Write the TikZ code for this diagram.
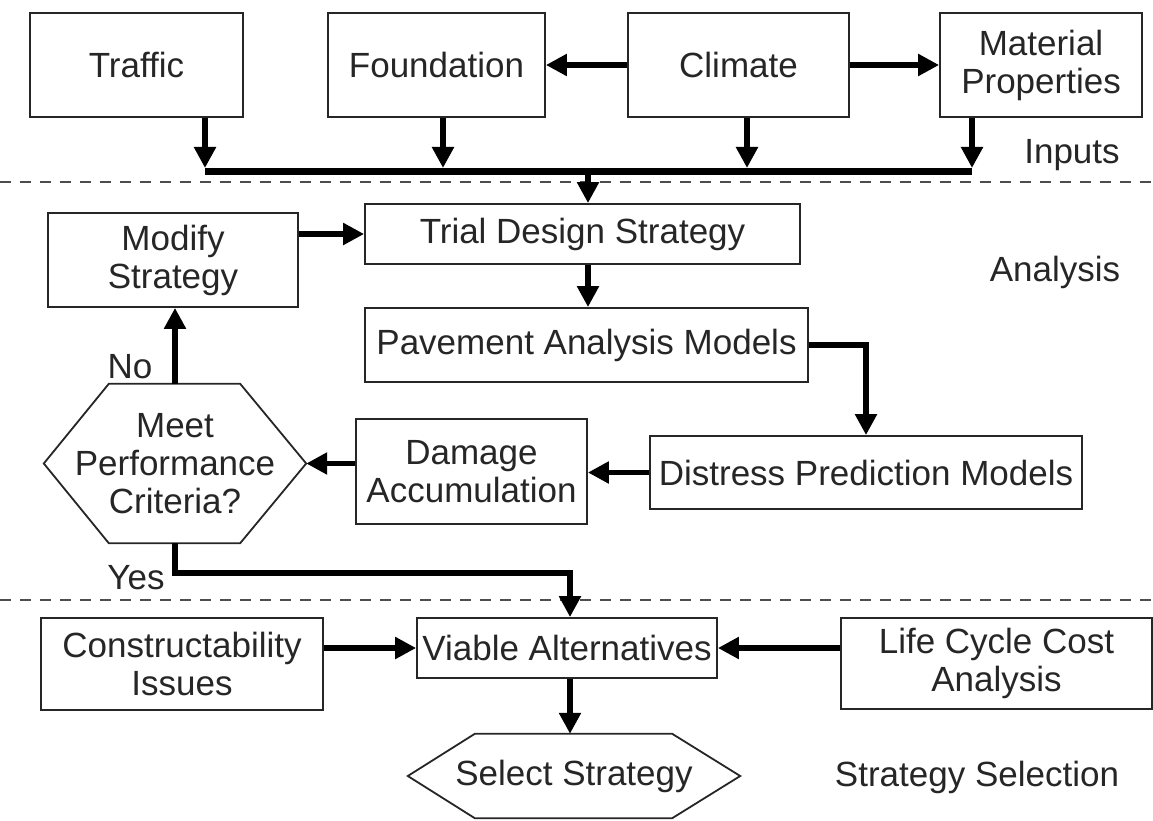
\documentclass[tikz,border=0pt]{standalone}
\usepackage{fontspec}
\setmainfont{Liberation Sans}
\usetikzlibrary{arrows.meta,calc}
\begin{document}
\begin{tikzpicture}[x=1pt,y=-1pt,
  txt/.style={font=\fontsize{35}{38}\selectfont, text=black!85},
  box/.style={txt, draw=black!85, line width=1.8pt, inner sep=0pt, align=center},
  hexbase/.style={txt, inner sep=0pt, align=center},
  hexline/.style={draw=black!85, line width=1.8pt, line join=miter},
  lbl/.style={txt, inner sep=0pt},
  arr/.style={line width=5.5pt, -{Triangle[length=21pt,width=21pt]}},
  bus/.style={line width=7pt},
  sep/.style={line width=1.6pt, dash pattern=on 11pt off 9pt, black!70}
]
\useasboundingbox (0,0) rectangle (1153,821);

% ---- Inputs
\node[box, minimum width=213, minimum height=104] (traffic) at (136.5,65) {Traffic};
\node[box, minimum width=217, minimum height=104] (foundation) at (436.5,65) {Foundation};
\node[box, minimum width=221, minimum height=104] (climate) at (738.5,65) {Climate};
\node[box, minimum width=202, minimum height=104] (material) at (1041,65) {Material\\Properties};
\node[lbl] (inputs) at (1072,155) {Inputs};

\draw[arr] (climate.west) -- (foundation.east);
\draw[arr] (climate.east) -- (material.west);

\coordinate (tA) at (205,168);
\coordinate (tB) at (443,168);
\coordinate (tC) at (747,168);
\coordinate (tD) at (972,168);
\coordinate (busy) at (0,172);
\coordinate (busM) at (588,172);

\draw[arr] (traffic.south -| tA) -- (tA);
\draw[arr] (foundation.south -| tB) -- (tB);
\draw[arr] (climate.south -| tC) -- (tC);
\draw[arr] (material.south -| tD) -- (tD);
\draw[bus] (tA |- busy) -- (tD |- busy);

% ---- separators
\coordinate (s1a) at (0,182);
\coordinate (s1b) at (1153,182);
\coordinate (s2a) at (0,600);
\coordinate (s2b) at (1153,600);
\draw[sep] (s1a) -- (s1b);
\draw[sep] (s2a) -- (s2b);

% ---- Analysis
\node[box, minimum width=250, minimum height=94] (modify) at (173,260) {Modify\\Strategy};
\node[box, minimum width=435, minimum height=60] (trial) at (582.5,234) {Trial Design Strategy};
\node[box, minimum width=443, minimum height=74] (pavement) at (586.5,345) {Pavement Analysis Models};
\node[box, minimum width=432, minimum height=73] (distress) at (866,472.5) {Distress Prediction Models};
\node[box, minimum width=231, minimum height=105] (damage) at (471.5,471.5) {Damage\\Accumulation};
\node[lbl] (analysis) at (1055,272) {Analysis};

\node[hexbase, minimum width=262, minimum height=159] (meet) at (175,463.5) {Meet\\Performance\\Criteria?};
\draw[hexline] (meet.west) -- ($(meet.north west)+(65,0)$) -- ($(meet.north east)+(-66,0)$)
  -- (meet.east) -- ($(meet.south east)+(-66,0)$) -- ($(meet.south west)+(65,0)$) -- cycle;

\draw[arr] (busM) -- (busM |- trial.north);
\draw[arr] (modify.east |- trial.west) -- (trial.west);
\draw[arr] (trial.south -| busM) -- (pavement.north -| busM);
\draw[arr] (pavement.east) -| (distress.north);
\draw[arr] (distress.west) -- (damage.east |- distress.west);
\draw[arr] (damage.west |- meet.east) -- (meet.east);
\draw[arr] (meet.north) -- (meet.north |- modify.south);
\node[lbl] (no) at (130,367) {No};

\coordinate (yesy) at (0,573);
\coordinate (vx) at (570,0);
\node[lbl] (yes) at (136,578) {Yes};

% ---- Strategy selection
\node[box, minimum width=282, minimum height=92] (constr) at (182,664) {Constructability\\Issues};
\node[box, minimum width=300, minimum height=60] (viable) at (567,648) {Viable Alternatives};
\node[box, minimum width=311, minimum height=91] (life) at (996.5,663.5) {Life Cycle Cost\\Analysis};
\node[hexbase, minimum width=332, minimum height=84] (select) at (574,776) {Select Strategy};
\draw[hexline] (select.west) -- ($(select.north west)+(67,0)$) -- ($(select.north east)+(-68,0)$)
  -- (select.east) -- ($(select.south east)+(-68,0)$) -- ($(select.south west)+(67,0)$) -- cycle;
\node[lbl] (stratsel) at (977,777) {Strategy Selection};

\draw[arr] (meet.south) -- (meet.south |- yesy) -| (viable.north -| vx);
\draw[arr] (constr.east |- viable.west) -- (viable.west);
\draw[arr] (life.west |- viable.east) -- (viable.east);
\draw[arr] (viable.south -| vx) -- (select.north -| vx);
\end{tikzpicture}
\end{document}
